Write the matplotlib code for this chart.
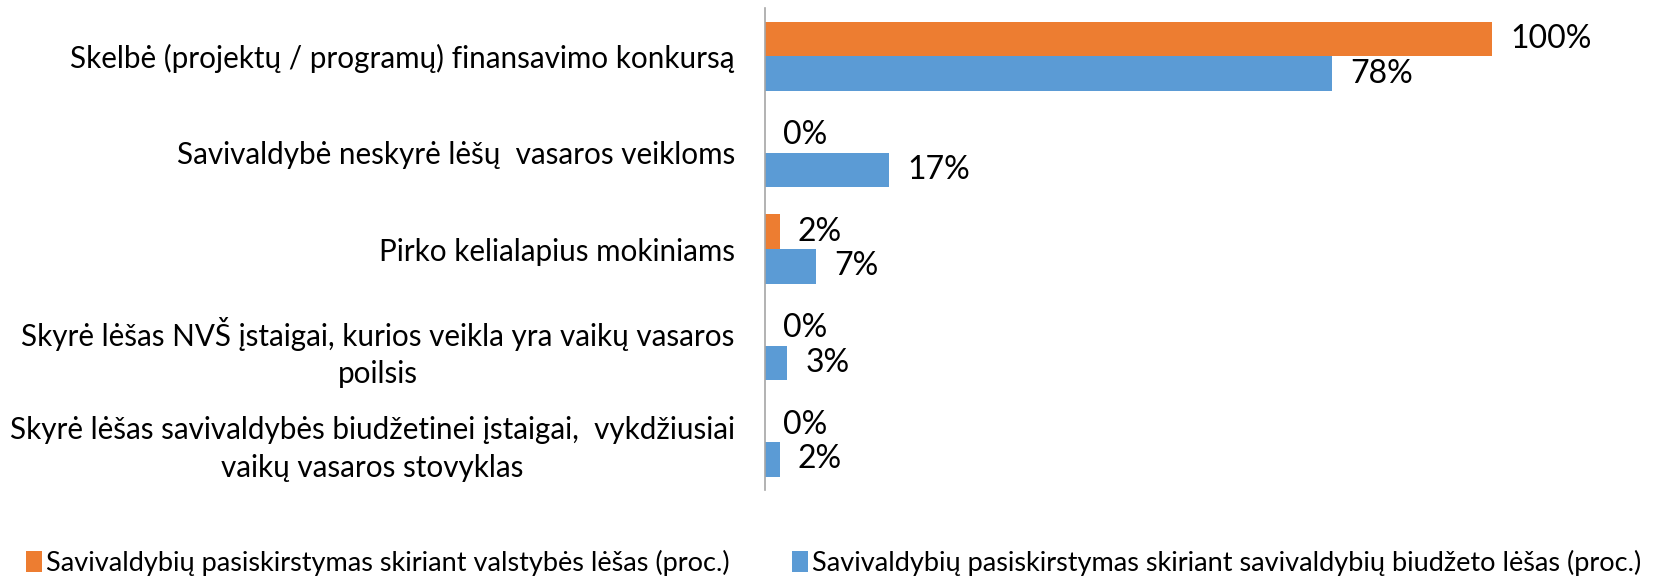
import numpy as np
import matplotlib.pyplot as plt

plt.rcParams['font.family'] = ['Lato', 'DejaVu Sans']

categories = ['Skelbė (projektų / programų) finansavimo konkursą',
              'Savivaldybė neskyrė lėšų  vasaros veikloms',
              'Pirko kelialapius mokiniams',
              'Skyrė lėšas NVŠ įstaigai, kurios veikla yra vaikų vasaros\npoilsis',
              'Skyrė lėšas savivaldybės biudžetinei įstaigai,  vykdžiusiai\nvaikų vasaros stovyklas']
valstybes = [100, 0, 2, 0, 0]   # orange
biudzeto = [78, 17, 7, 3, 2]    # blue
series_names = ['Savivaldybių pasiskirstymas skiriant valstybės lėšas (proc.)',
                'Savivaldybių pasiskirstymas skiriant savivaldybių biudžeto lėšas (proc.)']

orange = '#ED7D31'
blue = '#5B9BD5'

fig = plt.figure(figsize=(16.53, 5.78), dpi=100)
ax = fig.add_axes([0.463, 0.152, 0.5277, 0.834])

y = np.arange(len(categories))
h = 0.36
b1 = ax.barh(y - h/2, valstybes, height=h, color=orange, label=series_names[0])
b2 = ax.barh(y + h/2, biudzeto, height=h, color=blue, label=series_names[1])
ax.bar_label(b1, labels=[f'{v}%' for v in valstybes], padding=13, fontsize=23)
ax.bar_label(b2, labels=[f'{v}%' for v in biudzeto], padding=13, fontsize=23)

ax.set_xlim(0, 120)
ax.set_ylim(4.5, -0.5)
ax.set_yticks(y)
ax.set_yticklabels(categories, fontsize=21.3, multialignment='center', linespacing=1.4)
ax.tick_params(axis='y', length=0, pad=22)
ax.set_xticks([])
for s in ['top', 'right', 'bottom']:
    ax.spines[s].set_visible(False)
ax.spines['left'].set_color('#A6A6A6')
ax.spines['left'].set_linewidth(1.2)

fig.legend(handles=[b1, b2], loc='lower left', bbox_to_anchor=(0.009, -0.015), ncol=2,
           frameon=False, fontsize=19.5, handlelength=0.6, handleheight=0.8,
           handletextpad=0.15, columnspacing=2.3, borderaxespad=0.0)

fig.savefig('out.png', dpi=100)
